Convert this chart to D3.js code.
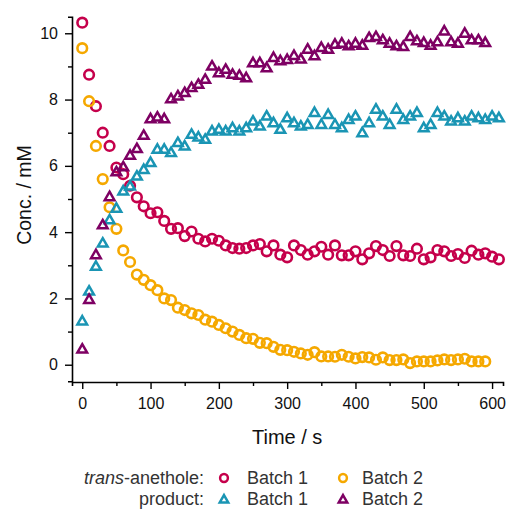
<!DOCTYPE html>
<html>
<head>
<meta charset="utf-8">
<script src="https://cdn.jsdelivr.net/npm/d3@7"></script>
<style>
  html, body { margin: 0; padding: 0; background: #fff; }
  svg { display: block; font-family: "Liberation Sans", Arial, sans-serif; }
</style>
</head>
<body>
<svg id="chart" width="508" height="509"></svg>
<script>
// Sampling step of the kinetics runs (seconds)
const STEP = 10;

// trans-anethole concentration (mM), batch 1, t = 0, 10, 20, ...
const anetholeBatch1 = [
  10.32, 8.75, 7.8, 7.0, 6.6, 5.95, 5.75, 5.4, 5.05, 4.78,
  4.57, 4.6, 4.34, 4.1, 4.12, 3.88, 4.02, 3.8, 3.72, 3.8,
  3.74, 3.6, 3.52, 3.5, 3.52, 3.6, 3.64, 3.42, 3.6, 3.32,
  3.24, 3.6, 3.46, 3.32, 3.42, 3.56, 3.32, 3.6, 3.3, 3.3,
  3.42, 3.18, 3.36, 3.58, 3.46, 3.28, 3.58, 3.3, 3.28, 3.5,
  3.18, 3.24, 3.46, 3.42, 3.28, 3.34, 3.22, 3.44, 3.32, 3.36,
  3.26, 3.18
];

// trans-anethole concentration (mM), batch 2
const anetholeBatch2 = [
  9.55, 7.95, 6.6, 5.6, 4.75, 4.1, 3.45, 3.1, 2.72, 2.56,
  2.4, 2.25, 2.0, 1.95, 1.72, 1.65, 1.55, 1.5, 1.36, 1.3,
  1.2, 1.1, 1.0, 0.9, 0.8, 0.78, 0.66, 0.65, 0.54, 0.45,
  0.44, 0.39, 0.34, 0.3, 0.38, 0.25, 0.25, 0.24, 0.3, 0.24,
  0.19, 0.23, 0.22, 0.15, 0.22, 0.14, 0.14, 0.16, 0.05, 0.1,
  0.1, 0.1, 0.13, 0.16, 0.14, 0.16, 0.18, 0.1, 0.1, 0.1
];

// product concentration (mM), batch 1
const productBatch1 = [
  1.3, 2.2, 2.95, 3.65, 4.35, 4.7, 5.22, 5.37, 5.67, 5.87,
  6.08, 6.48, 6.48, 6.38, 6.68, 6.58, 6.93, 6.85, 6.78, 7.03,
  7.08, 7.03, 7.13, 7.03, 7.13, 7.33, 7.18, 7.48, 7.28, 7.08,
  7.43, 7.28, 7.18, 7.23, 7.59, 7.23, 7.53, 7.23, 7.13, 7.38,
  7.48, 6.98, 7.28, 7.69, 7.48, 7.23, 7.69, 7.38, 7.48, 7.59,
  7.13, 7.23, 7.59, 7.48, 7.33, 7.43, 7.33, 7.48, 7.43, 7.38,
  7.48, 7.43
];

// product concentration (mM), batch 2
const productBatch2 = [
  0.45, 1.95, 3.3, 4.2, 5.05, 5.8, 5.95, 6.3, 6.5, 6.9,
  7.4, 7.45, 7.4, 8.0, 8.09, 8.19, 8.34, 8.44, 8.59, 8.99,
  8.79, 8.89, 8.74, 8.71, 8.64, 9.09, 9.09, 8.94, 9.25, 9.15,
  9.19, 9.31, 9.2, 9.5, 9.3, 9.55, 9.5, 9.65, 9.68, 9.6,
  9.68, 9.62, 9.85, 9.88, 9.78, 9.68, 9.6, 9.58, 9.88, 9.75,
  9.7, 9.62, 9.72, 10.05, 9.72, 9.68, 9.98, 9.78, 9.78, 9.7
];

const xTicks = [0, 100, 200, 300, 400, 500, 600];
const yTicks = [0, 2, 4, 6, 8, 10];

const series = [
  { values: anetholeBatch1, shape: "circle",   color: "#c5004b" },
  { values: anetholeBatch2, shape: "circle",   color: "#f5a800" },
  { values: productBatch1,  shape: "triangle", color: "#1a95b4" },
  { values: productBatch2,  shape: "triangle", color: "#7e0063" }
];

const svg = d3.select("#chart");

const x = d3.scaleLinear().domain([-15, 616]).range([72, 503]);
const y = d3.scaleLinear().domain([-0.5, 10.5]).range([381.3, 16.7]);

// marker shapes
const triR = 5.6;
function trianglePath(R) {
  const s = R * Math.sin(Math.PI / 3);
  return `M0,${-R}L${s},${R / 2}L${-s},${R / 2}Z`;
}

// axes with minor ticks
function minorAxis(axis, values) {
  return axis.tickValues(values).tickSize(4).tickFormat("");
}

const gx = svg.append("g").attr("transform", `translate(0,${y.range()[0] + 0.7})`);
gx.call(minorAxis(d3.axisBottom(x), d3.range(50, 650, 100)));
gx.call(g => g.append("g").call(
  d3.axisBottom(x).tickValues(xTicks).tickSize(7).tickPadding(9)));

const gy = svg.append("g").attr("transform", `translate(${x.range()[0]},0)`);
gy.call(minorAxis(d3.axisLeft(y), [1, 3, 5, 7, 9]));
gy.call(g => g.append("g").call(
  d3.axisLeft(y).tickValues(yTicks).tickSize(7).tickPadding(7)));

svg.selectAll(".domain").attr("stroke", "#000").attr("stroke-width", 1.6);
svg.selectAll(".tick line").attr("stroke", "#000").attr("stroke-width", 1.4);
svg.selectAll(".tick text")
  .attr("font-size", 16)
  .attr("font-family", "Liberation Sans, Arial, sans-serif")
  .attr("fill", "#111");
// hide duplicate domain lines from the minor axes
gx.select(":scope > g .domain").remove();
gy.select(":scope > g .domain").remove();

// axis titles
svg.append("text")
  .attr("x", x(300)).attr("y", 444)
  .attr("text-anchor", "middle")
  .attr("font-size", 20).attr("fill", "#111")
  .text("Time / s");

svg.append("text")
  .attr("transform", `translate(31,${(y.range()[0] + y.range()[1]) / 2 - 4}) rotate(-90)`)
  .attr("text-anchor", "middle")
  .attr("font-size", 19.5).attr("fill", "#111")
  .text("Conc. / mM");

// data markers
const plot = svg.append("g");
series.forEach(s => {
  const pts = s.values.map((v, i) => ({ t: i * STEP, v }));
  const g = plot.append("g");
  if (s.shape === "circle") {
    g.selectAll("circle").data(pts).join("circle")
      .attr("cx", d => x(d.t)).attr("cy", d => y(d.v)).attr("r", 4.8)
      .attr("fill", "none").attr("stroke", s.color).attr("stroke-width", 2.6);
  } else {
    g.selectAll("path").data(pts).join("path")
      .attr("d", trianglePath(triR))
      .attr("transform", d => `translate(${x(d.t)},${y(d.v)})`)
      .attr("fill", "none").attr("stroke", s.color).attr("stroke-width", 2.5)
      .attr("stroke-linejoin", "miter");
  }
});

// legend
const legend = svg.append("g").attr("font-size", 18).attr("fill", "#333");
const rows = [
  { y: 478, italic: "trans", rest: "-anethole:", shape: "circle",
    colors: [series[0].color, series[1].color] },
  { y: 499, plain: "product:", shape: "triangle",
    colors: [series[2].color, series[3].color] }
];
rows.forEach(r => {
  const t = legend.append("text")
    .attr("x", 204).attr("y", r.y + 6).attr("text-anchor", "end");
  if (r.italic) {
    t.append("tspan").attr("font-style", "italic").text(r.italic);
    t.append("tspan").text(r.rest);
  } else {
    t.text(r.plain);
  }
  [[224, 247, "Batch 1"], [343, 362, "Batch 2"]].forEach(([mx, tx, lab], k) => {
    if (r.shape === "circle") {
      legend.append("circle").attr("cx", mx).attr("cy", r.y).attr("r", 3.9)
        .attr("fill", "none").attr("stroke", r.colors[k]).attr("stroke-width", 2.5);
    } else {
      legend.append("path").attr("d", trianglePath(4.9))
        .attr("transform", `translate(${mx},${r.y + 1})`)
        .attr("fill", "none").attr("stroke", r.colors[k]).attr("stroke-width", 2.5);
    }
    legend.append("text").attr("x", tx).attr("y", r.y + 6).text(lab);
  });
});
</script>
</body>
</html>
